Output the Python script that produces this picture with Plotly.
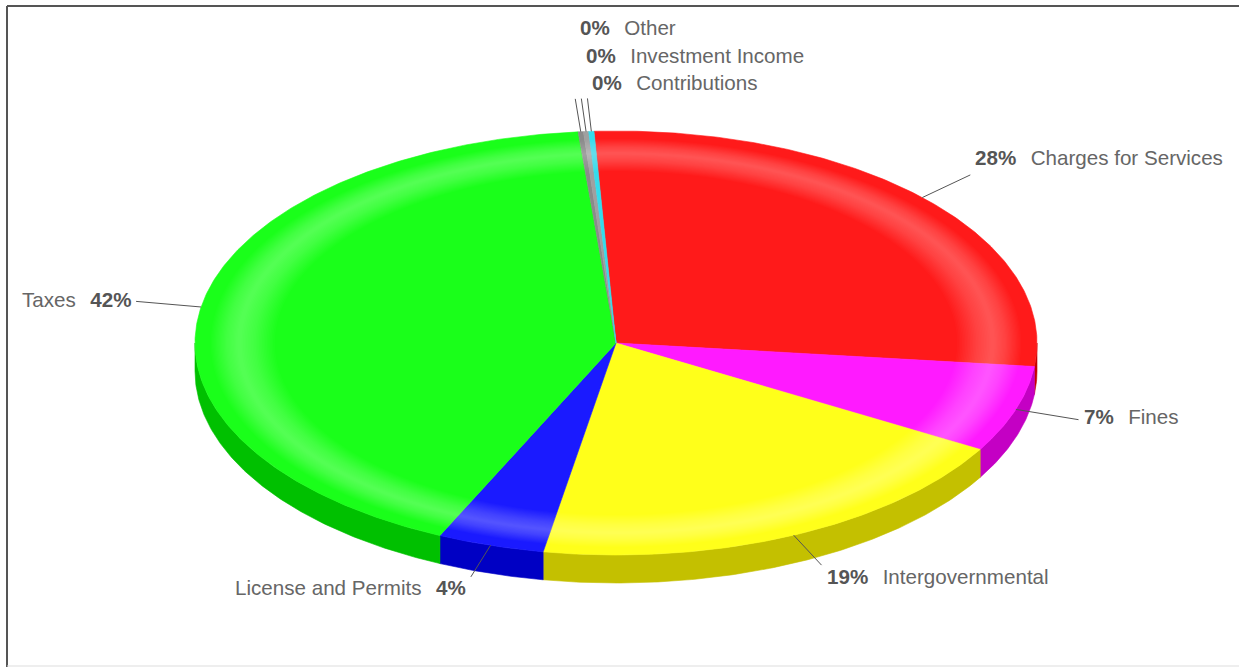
import numpy as np
import plotly.graph_objects as go

# ---------------- data ----------------
categories = ["Charges for Services", "Fines", "Intergovernmental", "License and Permits",
              "Taxes", "Other", "Investment Income", "Contributions"]
shares = [27.6, 6.6, 19.4, 4.1, 41.7, 0.2, 0.2, 0.2]   # percent of revenue

# ---------------- styles / layout ----------------
top_colors = ["#ff1a1a", "#ff1aff", "#ffff1a", "#1a1aff", "#1aff1a", "#8a8a8a", "#a0a0a0", "#33dcec"]
side_colors = ["#c40000", "#c400c4", "#c4c000", "#0000c4", "#00c000", "#6a6a6a", "#7a7a7a", "#22aab8"]

W, H = 1239, 667
CX, CY = 616, 343          # pie centre (px)
RX, RY = 421, 212          # top-face ellipse radii
DEPTH = 28                 # pie thickness
START = -3.0               # start angle, degrees clockwise from 12 o'clock
LRX, LRY = RX + 66, RY + 33  # connector end ellipse
LABEL_DY = [-17, -3, 11, 11, -2, -71, -43, -16]
FONT = "Liberation Sans, Arial, sans-serif"
FSIZE = 20.6
GAP = "\u2002\u2009"


def pt(theta, r=1.0, dz=0.0):
    t = np.radians(theta)
    return CX + r * RX * np.sin(t), CY - r * RY * np.cos(t) + dz


def arc(a0, a1, r=1.0, dz=0.0):
    n = max(4, int(abs(a1 - a0) * 2))
    th = np.linspace(a0, a1, n)
    return pt(th, r, dz)


fig = go.Figure()

# slice angles
angles = []
cum = START
for s in shares:
    a0 = cum
    a1 = cum + s * 3.6
    angles.append((a0, a1))
    cum = a1

# side walls (front half only)
for (a0, a1), col in zip(angles, side_colors):
    lo, hi = max(a0, 90), min(a1, 270)
    if hi <= lo:
        continue
    xt, yt = arc(lo, hi)
    xb, yb = arc(hi, lo, dz=DEPTH)
    xs = np.concatenate([xt, xb, xt[:1]])
    ys = np.concatenate([yt, yb, yt[:1]])
    fig.add_trace(go.Scatter(x=xs, y=ys, fill="toself", fillcolor=col, mode="lines",
                             line=dict(width=0.6, color=col), hoverinfo="skip", showlegend=False))

# top faces
for (a0, a1), col, name in zip(angles, top_colors, categories):
    xa, ya = arc(a0, a1)
    xs = np.concatenate([[CX], xa, [CX]])
    ys = np.concatenate([[CY], ya, [CY]])
    fig.add_trace(go.Scatter(x=xs, y=ys, fill="toself", fillcolor=col, mode="lines",
                             line=dict(width=0.6, color=col), name=name,
                             hoverinfo="skip", showlegend=False))

# soft shine ring on the top face
RING_C = 0.895
NLEV = 22
for k in range(NLEV):
    w = 0.085 * (1 - k / (NLEV + 0.5))
    r_in, r_out = RING_C - w, min(0.995, RING_C + w * 0.8)
    xo, yo = arc(0, 360, r_out)
    xi, yi = arc(360, 0, r_in)
    xs = np.concatenate([xo, xi, xo[:1]])
    ys = np.concatenate([yo, yi, yo[:1]])
    fig.add_trace(go.Scatter(x=xs, y=ys, fill="toself", fillcolor="rgba(255,255,255,0.016)",
                             mode="none", hoverinfo="skip", showlegend=False))

# connectors + labels
cx_, cy_ = [], []
annotations = []
for (a0, a1), name, s, dy in zip(angles, categories, shares, LABEL_DY):
    mid = (a0 + a1) / 2
    x0, y0 = pt(mid)
    t = np.radians(mid)
    x1, y1 = CX + LRX * np.sin(t), CY - LRY * np.cos(t)
    cx_ += [x0, x1, None]
    cy_ += [y0, y1, None]
    pct = f"{s:.0f}%"
    right = np.sin(t) > -0.2
    if right:
        text = f"<b style='color:#555555'>{pct}</b>{GAP}{name}"
        annotations.append(dict(x=x1 + 3, y=y1 + dy, text=text, xanchor="left", yanchor="middle",
                                showarrow=False, xref="x", yref="y",
                                font=dict(family=FONT, size=FSIZE, color="#666666")))
    else:
        text = f"{name}{GAP}<b style='color:#555555'>{pct}</b>"
        annotations.append(dict(x=x1 - 3, y=y1 + dy, text=text, xanchor="right", yanchor="middle",
                                showarrow=False, xref="x", yref="y",
                                font=dict(family=FONT, size=FSIZE, color="#666666")))

fig.add_trace(go.Scatter(x=cx_, y=cy_, mode="lines", line=dict(color="#555555", width=1),
                         hoverinfo="skip", showlegend=False))

shapes = [
    dict(type="line", xref="x", yref="y", x0=7, x1=W, y0=6, y1=6, line=dict(color="#555555", width=2)),
    dict(type="line", xref="x", yref="y", x0=7, x1=7, y0=6, y1=H, line=dict(color="#555555", width=2)),
    dict(type="line", xref="x", yref="y", x0=7, x1=W, y0=666, y1=666, line=dict(color="#dddddd", width=1)),
]

fig.update_layout(
    width=W, height=H, margin=dict(l=0, r=0, t=0, b=0),
    paper_bgcolor="white", plot_bgcolor="white",
    xaxis=dict(range=[0, W], visible=False, fixedrange=True),
    yaxis=dict(range=[H, 0], visible=False, fixedrange=True),
    annotations=annotations, shapes=shapes,
)

fig.write_html("out.html")
